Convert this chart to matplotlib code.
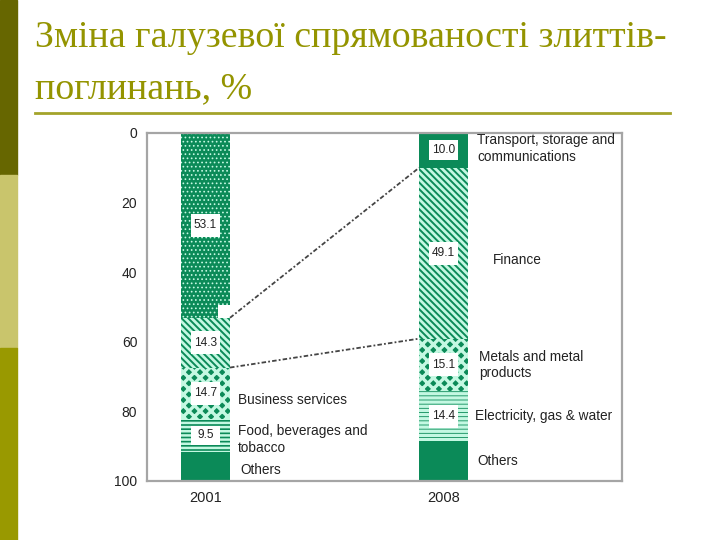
#!/usr/bin/env python3
# -*- coding: utf-8 -*-

import matplotlib
matplotlib.use("Agg")
import matplotlib.pyplot as plt
from matplotlib.patches import Rectangle
from matplotlib.lines import Line2D

# Data
years = ["2001", "2008"]
shares_2001 = [53.1, 14.3, 14.7, 9.5, 8.4]
shares_2008 = [10.0, 49.1, 15.1, 14.4, 11.4]
values_2001 = ["53.1", "14.3", "14.7", "9.5", ""]
values_2008 = ["10.0", "49.1", "15.1", "14.4", ""]
labels_2001 = ["", "", "Business services", "Food, beverages and\ntobacco", "Others"]
labels_2008 = ["Transport, storage and\ncommunications", "Finance",
               "Metals and metal\nproducts", "Electricity, gas & water", "Others"]
yticks = [0, 20, 40, 60, 80, 100]

# hatch pattern and hatch line width per segment
hatches_2001 = [("....", 0.7), ("\\\\\\\\\\", 2.0), ("xxx", 2.4), ("----", 1.8), (None, 1)]
hatches_2008 = [(None, 1), ("\\\\\\\\\\", 2.0), ("xxx", 2.4), ("----", 2.4), (None, 1)]

green = "#0b8a58"
mint = "#c4f8e2"
olive = "#949400"

plt.rcParams["font.family"] = ["Liberation Sans", "DejaVu Sans"]

W, H = 720, 540
fig = plt.figure(figsize=(7.2, 5.4), dpi=100)

# Slide decoration: left stripe
for y0, y1, c in [(0, 175, "#666600"), (175, 348, "#c9c56c"), (348, 540, "#999900")]:
    fig.patches.append(Rectangle((0, 1 - y1 / H), 17 / W, (y1 - y0) / H,
                                 transform=fig.transFigure, color=c, zorder=0))

# Title
fig.text(35 / W, 1 - 38 / H, "Зміна галузевої спрямованості злиттів-",
         family="Liberation Serif", fontsize=27.3, color=olive, va="center", ha="left")
fig.text(35 / W, 1 - 89 / H, "поглинань, %",
         family="Liberation Serif", fontsize=27.3, color=olive, va="center", ha="left")
fig.lines.append(Line2D([35 / W, 670 / W], [1 - 113 / H, 1 - 113 / H],
                        transform=fig.transFigure, color="#a3a32a", lw=2))

# Chart axes
left, right, top, bottom = 147, 622, 133, 481
ax = fig.add_axes([left / W, 1 - bottom / H, (right - left) / W, (bottom - top) / H])

px = 1 / 238.0
bw = 49 * px
ax.set_xlim((left - 205.5) * px, (right - 205.5) * px)
ax.set_ylim(100, 0)


def stack(x, shares, hatches, values, labels, label_dx, label_dy):
    base = 0
    ends = []
    for s, (h, hlw), v, lab, dx, dy in zip(shares, hatches, values, labels, label_dx, label_dy):
        with plt.rc_context({"hatch.linewidth": hlw}):
            bars = ax.bar(x, s, bottom=base, width=bw, color=green,
                          edgecolor=mint if h else green, linewidth=0, hatch=h, zorder=2)
        for b in bars:
            if hasattr(b, "set_hatch_linewidth"):
                b.set_hatch_linewidth(hlw)
        mid = base + s / 2
        if v:
            bh = min(6.6, s * 0.58)
            ax.bar(x, bh, bottom=mid - bh / 2, width=29 * px, color="white", zorder=3)
            ax.text(x, mid, v, ha="center", va="center", fontsize=8.6,
                    color="#222222", zorder=4)
        if lab:
            ax.text(x + bw / 2 + dx * px, mid + dy, lab, ha="left", va="center",
                    fontsize=9.8, color="#222222", linespacing=1.25, zorder=4)
        base += s
        ends.append(base)
    return ends


ends_2001 = stack(0, shares_2001, hatches_2001, values_2001, labels_2001,
                  [8, 8, 8, 8, 10], [0, 0, 2, 1.2, 1])
ends_2008 = stack(1, shares_2008, hatches_2008, values_2008, labels_2008,
                  [9, 25, 11, 7, 9], [-0.5, 2, 0, 0, 0])

# small white notch at the foot of the first 2001 segment
ax.bar(bw / 2 - 6 * px, 3.6, bottom=ends_2001[0] - 3.6, width=12 * px,
       color="white", zorder=2.5)

# Connecting lines for Transport and Finance
for i in range(2):
    ax.plot([bw / 2, 1 - bw / 2], [ends_2001[i], ends_2008[i]], color="#444444",
            lw=1.3, linestyle=(0, (2.5, 1.2, 1, 1.2)), zorder=3)

ax.set_yticks(yticks)
ax.set_xticks([0, 1])
ax.set_xticklabels(years)
ax.tick_params(axis="both", length=0, labelsize=10, colors="#222222")
ax.tick_params(axis="x", pad=7, labelsize=10.5)
ax.tick_params(axis="y", pad=7)
for sp in ax.spines.values():
    sp.set_color("#a5a5a5")
    sp.set_linewidth(1.6)

fig.savefig("out.png", dpi=100)
